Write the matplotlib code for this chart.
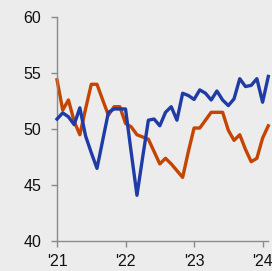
import matplotlib
matplotlib.use("Agg")
import matplotlib.pyplot as plt
import numpy as np

# Monthly values, Jan 2021 .. Feb 2024
blue_series = [50.9, 51.45, 51.1, 50.4, 51.9, 49.4, 47.9, 46.5, 49.0, 51.5, 51.8, 51.8,
               51.8, 47.9, 44.1, 47.5, 50.8, 50.9, 50.3, 51.5, 52.0, 50.8, 53.2, 53.0,
               52.65, 53.5, 53.2, 52.6, 53.4, 52.6, 52.1, 52.7, 54.5, 53.8, 53.9, 54.5,
               52.4, 54.7]
orange_series = [54.4, 51.7, 52.6, 50.7, 49.5, 51.8, 54.0, 54.0, 52.6, 51.25, 52.0, 52.0,
                 50.5, 50.2, 49.5, 49.3, 49.1, 48.0, 46.9, 47.4, 46.9, 46.3, 45.7, 48.0,
                 50.1, 50.1, 50.8, 51.5, 51.5, 51.5, 49.9, 49.0, 49.5, 48.2, 47.1, 47.4,
                 49.2, 50.3]
year_tick_labels = ["'21", "'22", "'23", "'24"]
year_tick_months = [0, 12, 24, 36]
y_ticks = [40, 45, 50, 55, 60]

plt.rcParams['font.family'] = ['Liberation Sans', 'DejaVu Sans']

bg = '#ececec'
fig = plt.figure(figsize=(2.72, 2.71), dpi=100, facecolor=bg)
ax = fig.add_axes([0.2096, 0.1096, 0.9864 - 0.2096, 0.9373 - 0.1096], facecolor=bg)

x = np.arange(len(blue_series))
ax.plot(x, blue_series, color='#1f3ca6', lw=2.4, clip_on=False, solid_joinstyle='round', zorder=3)
ax.plot(x, orange_series, color='#c54400', lw=2.4, clip_on=False, solid_joinstyle='round', zorder=2)

ax.set_xlim(0, len(blue_series) - 1)
ax.set_ylim(40, 60)
ax.set_yticks(y_ticks)
ax.set_xticks(year_tick_months)
ax.set_xticklabels(year_tick_labels)

for s in ['top', 'right']:
    ax.spines[s].set_visible(False)
for s in ['left', 'bottom']:
    ax.spines[s].set_color('#8a8a8a')
    ax.spines[s].set_linewidth(1.0)

ax.tick_params(axis='both', colors='#8a8a8a', labelcolor='#111111', labelsize=11.5,
               length=4.3, width=1.0)
ax.tick_params(axis='y', pad=7)
ax.tick_params(axis='x', pad=5)

fig.savefig('out.png', dpi=100, facecolor=bg)
